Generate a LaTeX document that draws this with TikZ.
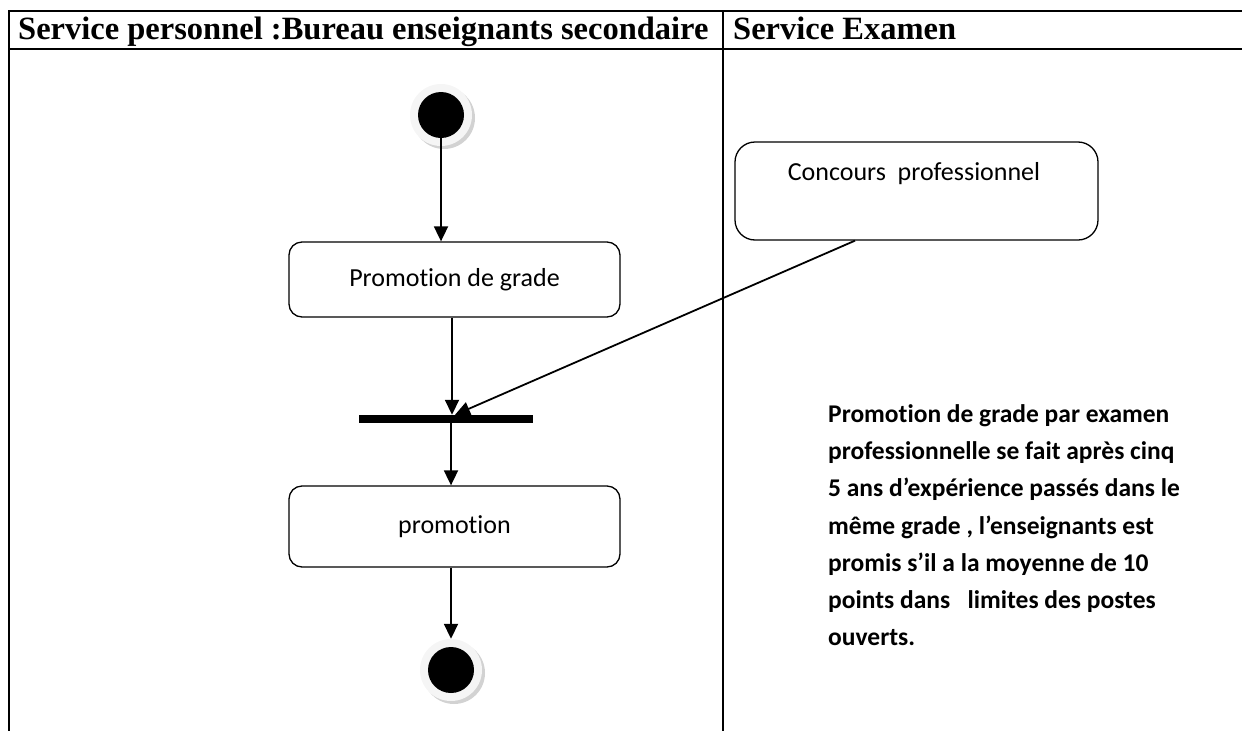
\documentclass[tikz,border=0pt]{standalone}
\usepackage{fontspec}
\setmainfont{Liberation Serif}
\newfontfamily\calib[Ligatures=NoCommon]{Carlito}
\usetikzlibrary{arrows.meta,calc}
\begin{document}
\begin{tikzpicture}[x=1pt,y=-1pt,
  tbl/.style={line width=2.4pt},
  action/.style={draw, line width=1.3pt, rounded corners=13pt, inner sep=0pt, font=\calib\fontsize{26}{30}\selectfont},
  arr/.style={line width=1.8pt, -{Triangle[length=15pt,width=14pt]}},
  ring/.style={circle, inner sep=0pt, minimum size=62pt, fill=gray!8},
  ringshadow/.style={circle, inner sep=0pt, minimum size=62pt, fill=gray!35},
  dot/.style={circle, inner sep=0pt, minimum size=46pt, fill=black},
  head/.style={anchor=base west, inner sep=0pt, font=\bfseries\fontsize{32.5}{36}\selectfont}
]
\useasboundingbox (0,0) rectangle (1242,731);
% table
\draw[tbl] (1242,11) -- (9,11) -- (9,731);
\draw[tbl] (9,49) -- (1242,49);
\draw[tbl] (723,11) -- (723,731);
\node[head] (h1) at (18,39) {Service personnel :Bureau enseignants secondaire};
\node[head] (h2) at (733,39) {Service Examen};
% start
\node[ringshadow] (starts) at (444,118) {};
\node[ring] (startr) at (441,115) {};
\node[dot] (start) at (441,115) {};
% actions
\node[action, minimum width=331pt, minimum height=75pt] (pg) at (454.5,279.5) {Promotion de grade};
\node[fill=black, inner sep=0pt, minimum width=174pt, minimum height=8pt] (bar) at (446,419) {};
\node[action, minimum width=331pt, minimum height=81pt] (promo) at (454.5,526.5) {promotion};
\node[action, rounded corners=20pt, minimum width=363pt, minimum height=98pt] (cp) at (916.5,191) {};
\node[inner sep=0pt, font=\calib\fontsize{26}{30}\selectfont] (cpt) at (914,174) {Concours\ \ professionnel};
% end
\node[ringshadow] (ends) at (454,673) {};
\node[ring] (end) at (451,670) {};
\node[dot] (endd) at (451,670) {};
% connectors
\draw[arr] (start.south) -- (start.south |- pg.north);
\draw[arr] ([xshift=-2.5pt]pg.south) -- ([xshift=-2.5pt]pg.south |- bar.north);
\draw[arr] ([xshift=-61.5pt]cp.south) -- ([xshift=9pt]bar.north);
\draw[arr] ([xshift=5pt]bar.south) -- ([xshift=5pt]bar.south |- promo.north);
\draw[arr] ([xshift=-3.5pt]promo.south) -- ([xshift=-3.5pt]promo.south |- end.north);
% note
\node[anchor=north west, inner sep=0pt, align=left, font=\calib\bfseries\fontsize{25.5}{37.3}\selectfont] (note) at (828,404) {Promotion de grade par examen\\ professionnelle se fait après cinq\\ 5 ans d’expérience passés dans le\\ même grade , l’enseignants est\\ promis s’il a la moyenne de 10\\ points dans\ \ \ limites des postes\\ ouverts.};
\end{tikzpicture}
\end{document}
